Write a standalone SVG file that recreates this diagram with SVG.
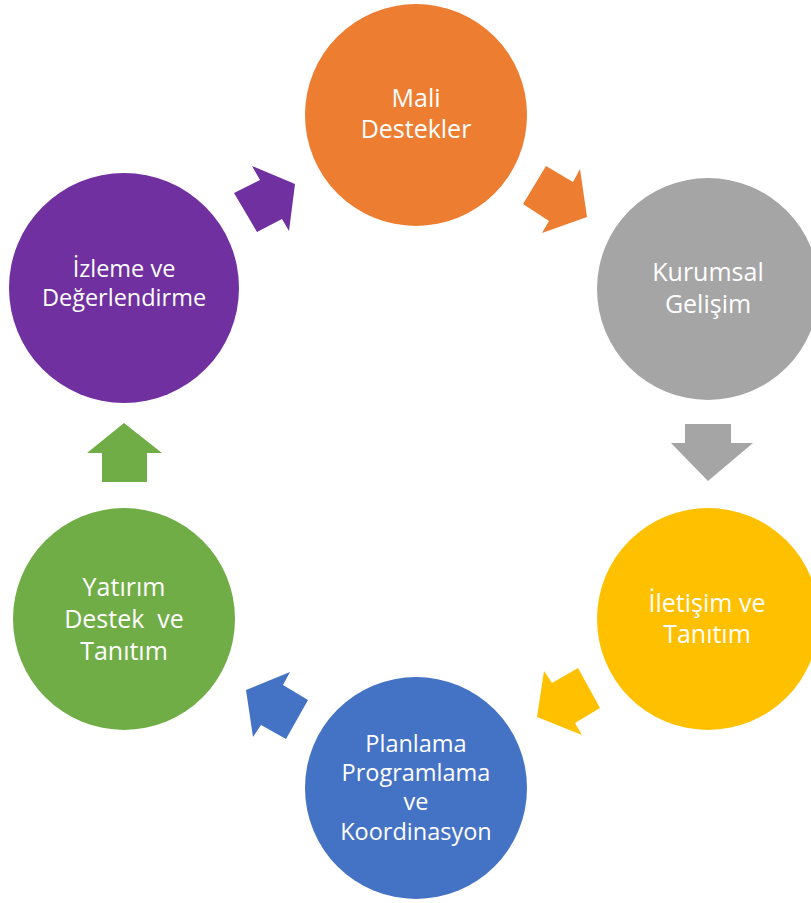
<svg xmlns="http://www.w3.org/2000/svg" width="811" height="903" viewBox="0 0 811 903">
<style>
.lbl{font-family:"Open Sans","Liberation Sans",sans-serif;font-size:25px;fill:#FFFFFF;text-anchor:middle}
.sm{font-size:23.5px}
</style>
<rect x="0" y="0" width="811" height="903" fill="#FFFFFF"/>
<g id="connectors">
<polygon fill="#7030A0" points="234,193 260,180 252,166 295,184 289,231 282,219 257,232"/>
<polygon fill="#ED7D31" points="523,204 546,166 573,182 580,169 587,217 542,233 549,221"/>
<polygon fill="#A5A5A5" points="685,424 731,424 731,443 753,443 708,481 671,443 685,443"/>
<polygon fill="#FFC000" points="537,717 544,671 552,683 578,668 600,708 575,723 582,735"/>
<polygon fill="#4472C4" points="246,690 290,672 283,685 308,700 286,739 261,725 253,737"/>
<polygon fill="#70AD47" points="124,423 162,453 147,453 147,482 102,482 102,453 87,453"/>
</g>
<g id="mali">
<circle cx="416" cy="115" r="111" fill="#ED7D31"/>
<text class="lbl" x="416" y="107">Mali</text>
<text class="lbl" x="416" y="138">Destekler</text>
</g>
<g id="kurumsal">
<circle cx="708" cy="289" r="111" fill="#A5A5A5"/>
<text class="lbl" x="708" y="281">Kurumsal</text>
<text class="lbl" x="708" y="313">Gelişim</text>
</g>
<g id="iletisim">
<circle cx="708" cy="619" r="111" fill="#FFC000"/>
<text class="lbl" x="707" y="612">İletişim ve</text>
<text class="lbl" x="707" y="643">Tanıtım</text>
</g>
<g id="planlama">
<circle cx="416" cy="788" r="111" fill="#4472C4"/>
<text class="lbl sm" x="416" y="752">Planlama</text>
<text class="lbl sm" x="416" y="781">Programlama</text>
<text class="lbl sm" x="416" y="810">ve</text>
<text class="lbl sm" x="416" y="840">Koordinasyon</text>
</g>
<g id="yatirim">
<circle cx="124" cy="619" r="111" fill="#70AD47"/>
<text class="lbl" x="124" y="596">Yatırım</text>
<text class="lbl" x="124" y="628" xml:space="preserve">Destek  ve</text>
<text class="lbl" x="124" y="660">Tanıtım</text>
</g>
<g id="izleme">
<circle cx="124" cy="288" r="115" fill="#7030A0"/>
<text class="lbl sm" x="124" y="277">İzleme ve</text>
<text class="lbl sm" x="124" y="306">Değerlendirme</text>
</g>
</svg>
